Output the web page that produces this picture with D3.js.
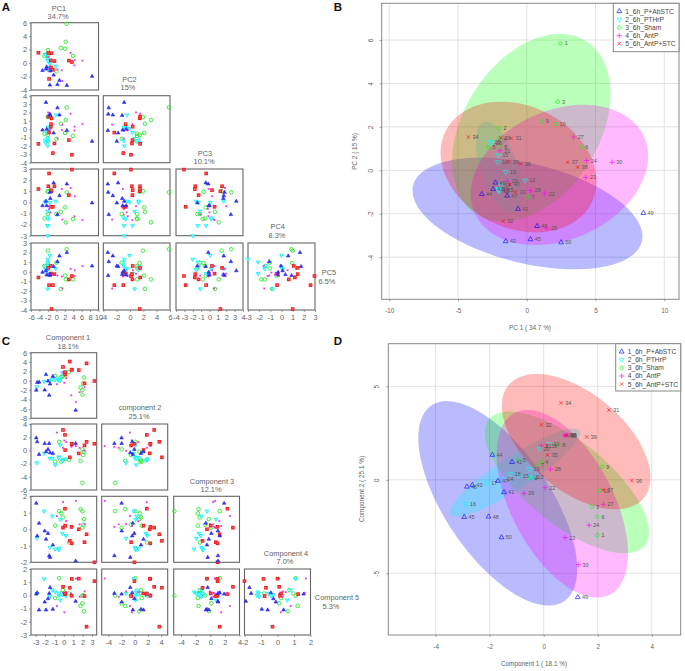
<!DOCTYPE html>
<html><head><meta charset="utf-8">
<style>html,body{margin:0;padding:0;background:#fff}svg{display:block}text{font-family:"Liberation Sans",Arial,sans-serif}</style>
<script src="https://cdn.jsdelivr.net/npm/d3@7"></script></head><body><div id="c"></div>
<script>
// sample order 1..50 : Sham 1-10, PTHrP 11-20, AntP 21-30, AntP+STC 31-40, P+AbSTC 41-50
const groupNames=["1_6h_P+AbSTC","2_6h_PTHrP","3_6h_Sham","4_6h_AntP","5_6h_AntP+STC"];
const sampleGroupOrder=[2,1,3,4,0];
const pc1=[2.45,-1.99,2.25,-2.0,-2.8,3.95,0.03,-1.95,1.07,2.08,-2.05,-.12,-1.53,-1.9,-2.08,-2.1,-2.05,-2.02,-2.65,-2.55,-1.95,1.3,4.3,4.35,-1.7,1.45,3.4,.27,-1.4,6.2,-1.13,-1.72,-.82,-4.25,-1.3,-1.9,2.97,3.7,-.45,-1.25,-.63,-1.53,-2.45,-3.27,.27,-2.28,-1.43,.75,8.48,2.5];
const pc2=[5.84,1.94,3.16,1.45,1.05,1.07,-1.24,1.07,2.25,2.13,-.85,-.46,-.07,-.68,.69,.38,-.9,-.95,1.3,1.27,.9,-1.07,-.33,.45,-.9,-2.67,1.53,-.93,-.5,.37,1.47,-2.35,-1.0,1.53,.4,1.5,.37,.15,.29,-.65,-1.78,-3.27,-.87,-1.1,-3.18,-.57,-1.17,-2.57,-1.97,-3.32];
const pc3=[2.6,1.45,1.1,-.7,-.55,-.8,-1.15,-1.45,.65,-.45,-2.0,1.7,.1,.2,-1.1,-.4,-1.4,.25,-1.3,-1.6,2.0,-.1,-.15,.3,-.2,.55,1.85,-1.1,0,.6,1.3,-.4,-2.85,-1.75,.3,1.5,-1.3,-3.05,-1.7,.6,-.45,1.8,3.2,-.1,2.55,0,1.65,1.7,-1.45,-.15];
const pc4=[.9,1.0,-1.8,.95,-1.45,-1.5,-1.05,-1.05,-.85,-.45,-3,.1,0,-1.5,-.8,-2.1,-2.1,-1.4,0,.1,-.35,1.2,-1.25,.55,-.6,-1.55,1.3,-1.1,-.9,-1.6,1.0,2.6,-.4,1.2,1.1,1.45,.65,2.95,1.45,-.4,1.75,.9,.1,-.3,-1.1,-.3,.35,.6,-.05,1.65];
const pc5=[2.35,2.2,-.8,.9,.6,-.8,.95,.35,-1.8,-.4,1.3,.3,1.7,.3,-1.8,-.2,1.0,.6,.5,.2,-.2,-.5,-.45,.15,-.3,-1.75,.3,-.4,-.1,.6,-3.9,-1.4,-1.4,-.6,.6,.4,-.8,-.45,-.25,-.2,.55,-.4,.1,-.05,1.05,-.35,-.3,1.65,.6,2.0];
const c1=[1.98,-.5,1.78,-.1,-.93,1.98,-.26,.54,2.16,2.06,-.55,-.38,-.53,-1.5,-.93,-2.88,-2.1,-1.23,.21,-.16,-.09,.05,.79,1.68,.85,-.73,2.21,.25,.75,1.28,2.42,-.09,.12,.64,.14,3.26,2.2,.85,1.59,.83,-1.47,-1.17,-2.64,-1.9,-2.94,-2.84,-1.69,-2.04,1.26,-1.56];
const c2=[-2.95,.12,-1.43,.97,1.06,-1.97,.79,1.86,.7,-.58,.15,.13,.58,.03,.22,-1.29,-.15,.31,1.92,1.67,1.83,-.42,-3.09,-2.43,2.4,-.72,-1.31,.56,2.38,-4.54,3.73,2.95,1.83,4.12,1.33,-.04,-.54,2.36,2.29,2.38,-.67,.95,-.28,1.33,-1.99,-.37,-.06,-1.97,-6.28,-3.08];
const c3=[-4.9,1.3,-1.6,-1.45,-1.7,.15,-1.7,-1.4,-.2,-.7,-1,.8,-1.1,-1.2,-2.2,-1.9,-.45,-1.2,-1.3,-1.55,.4,1.5,.55,.4,.65,2.7,-.05,1.25,.8,.65,1.3,3.1,2.35,-1.05,.05,1,.75,1,-.45,1,-.35,-.45,-.6,-.2,1.9,1.3,.15,1.05,1.05,1.05];
const c4=[1.1,1.1,1.22,.72,.22,.1,.97,-.8,.62,.28,-1.25,.6,-1.15,-1.1,-1.2,-.55,1.1,.8,-.38,-.25,1.65,.2,.15,.3,.1,.8,.32,.5,.1,1.72,-.3,.1,1.25,-.7,.22,-2,-.78,-.85,0,.15,-1.7,-.95,.37,-.6,1.58,-.4,-.25,-.1,-1.92,-1.6];
const c5=[-.02,1.3,-.8,.4,-.2,-.6,.15,.15,-1.2,0,0,-.35,.15,-.1,.25,.15,1.25,.4,-.05,.05,.2,-1.28,.15,-.1,1.28,-.8,.3,.25,.1,1.28,-2.37,.65,.1,.58,.15,1.08,-.05,1.25,1.27,-.03,.6,-1.05,-1.1,-1.1,.1,.2,-.25,-.5,-.45,.15];
// confidence ellipses per legend group: centre x, centre y, half-width, half-height, correlation (data units)
const ellipseCx_B=[.05,-2.02,.33,2.38,-.6], ellipseCy_B=[-1.99,.13,1.96,-.215,.15], ellipseA_B=[8.36,1.68,5.76,6.45,5.67], ellipseB_B=[2.57,2.11,4.32,3.23,3.01], ellipseR_B=[-.41,-.54,.36,.27,-.22];
const ellipseCx_D=[-1.7,-1.06,.86,.69,1.2], ellipseCy_D=[-1.26,.39,-.14,-1.28,2.04], ellipseA_D=[2.94,2.41,3.04,2.43,2.75], ellipseB_D=[5.47,2.36,3.79,5.02,3.62], ellipseR_D=[-.64,.9,-.7,-.53,-.53];
const colors=["#0000ff","#00ffff","#00ff00","#ff00ff","#ff0000"];
const textGray="#5f5f5f", boxGray="#666";

const svg=d3.select("#c").append("svg").attr("width",685).attr("height",671);
const groupOf=i=>sampleGroupOrder[Math.floor(i/10)];
const plainInt=d=>String(d);

function txt(x,y,s,size,opt={}){return svg.append("text").attr("x",x).attr("y",y).attr("text-anchor",opt.anchor||"middle")
  .attr("font-size",size).attr("fill",opt.fill||textGray).attr("font-weight",opt.weight||null).attr("transform",opt.rot?`rotate(-90 ${x} ${y})`:null).text(s);}

// ---- markers of the small scatter matrices
function pairMark(g,gi,x,y){
  const t=`translate(${x},${y})`;
  if(gi===0) g.append("path").attr("d",d3.symbol(d3.symbolTriangle,5.5)()).attr("transform",t).attr("fill","#3a3af0").attr("stroke","#2222ee").attr("stroke-width",.6);
  if(gi===1) g.append("path").attr("d",d3.symbol(d3.symbolTriangle,6)()).attr("transform",t+" rotate(180)").attr("fill","#9ff").attr("stroke","#00f0ff").attr("stroke-width",.8);
  if(gi===2) g.append("circle").attr("cx",x).attr("cy",y).attr("r",1.8).attr("fill","none").attr("stroke","#22e622").attr("stroke-width",.85);
  if(gi===3) g.append("rect").attr("x",x-.9).attr("y",y-.9).attr("width",1.8).attr("height",1.8).attr("fill","#f030f0");
  if(gi===4){ g.append("rect").attr("x",x-1.8).attr("y",y-1.8).attr("width",3.6).attr("height",3.6).attr("fill","#f01818");
    g.append("path").attr("d",`M${x-1},${y-1}L${x+1},${y+1}M${x-1},${y+1}L${x+1},${y-1}`).attr("stroke","#ff9a9a").attr("stroke-width",.5);}
}

function pairMatrix(vars,cols,rows){
  rows.forEach((r,ri)=>{
    cols.forEach((c,ci)=>{
      if(ci>ri) return;
      const x=d3.scaleLinear().domain(c.dom).range(c.px), y=d3.scaleLinear().domain(r.dom).range(r.px);
      const g=svg.append("g");
      if(ci===0){
        const a=g.append("g").attr("transform",`translate(${c.px[0]},0)`).call(d3.axisLeft(y).tickValues(r.ticks).tickSize(2).tickPadding(2).tickFormat(plainInt));
        styleAxis(a);
      }
      if(ri===rows.length-1){
        const a=g.append("g").attr("transform",`translate(0,${r.px[0]})`).call(d3.axisBottom(x).tickValues(c.ticks).tickSize(2).tickPadding(3).tickFormat(plainInt));
        styleAxis(a);
      }
      g.append("rect").attr("x",c.px[0]).attr("y",r.px[1]).attr("width",c.px[1]-c.px[0]).attr("height",r.px[0]-r.px[1]).attr("fill","none").attr("stroke",boxGray).attr("stroke-width",1.1);
      vars[0].forEach((_,i)=>{
        const a=vars[ci][i], b=vars[ri+1][i];
        if(a<c.dom[0]||a>c.dom[1]||b<r.dom[0]||b>r.dom[1]) return;
        pairMark(g,groupOf(i),x(a),y(b));
      });
    });
  });
}
function styleAxis(a){a.select(".domain").remove();a.selectAll("line").attr("stroke","#777").attr("stroke-width",.7);
  a.selectAll("text").attr("font-size",7.4).attr("fill",textGray).attr("font-family",'"Liberation Sans",Arial,sans-serif');}

// ---- big score plots
function bigMark(g,gi,x,y,lw){
  const t=`translate(${x},${y})`;
  if(gi===2){ g.append("circle").attr("cx",x).attr("cy",y).attr("r",1.8).attr("fill","none").attr("stroke",colors[gi]).attr("stroke-width",lw||.75).attr("opacity",.8); return; }
  const p=g.append("path").attr("fill","none").attr("stroke",colors[gi]).attr("stroke-width",lw||.75).attr("opacity",.8);
  if(gi===0) p.attr("d",d3.symbol(d3.symbolTriangle,10)()).attr("transform",t);
  if(gi===1) p.attr("d",d3.symbol(d3.symbolTriangle,10)()).attr("transform",t+" rotate(180)");
  if(gi===3) p.attr("d","M-2.7,0H2.7M0,-2.7V2.7").attr("transform",t);
  if(gi===4) p.attr("d","M-1.7,-1.7L1.7,1.7M-1.7,1.7L1.7,-1.7").attr("transform",t);
}
function scorePlot(o){
  const x=d3.scaleLinear().domain(o.xDom).range([o.box[0],o.box[1]]), y=d3.scaleLinear().domain(o.yDom).range([o.box[3],o.box[2]]);
  const g=svg.append("g");
  const grid=g.append("g").attr("stroke","#e2e2e2").attr("stroke-width",1);
  o.xTicks.forEach(t=>grid.append("line").attr("x1",x(t)).attr("x2",x(t)).attr("y1",o.box[2]).attr("y2",o.box[3]));
  o.yTicks.forEach(t=>grid.append("line").attr("x1",o.box[0]).attr("x2",o.box[1]).attr("y1",y(t)).attr("y2",y(t)));
  const line=d3.line().x(d=>d[0]).y(d=>d[1]);
  groupNames.forEach((n,i)=>{
    const pts=d3.range(0,2*Math.PI+.01,.05).map(a=>[x(o.ell.cx[i]+o.ell.a[i]*Math.cos(a)),y(o.ell.cy[i]+o.ell.b[i]*Math.cos(a+Math.acos(o.ell.r[i])))]);
    g.append("path").attr("d",line(pts)+"Z").attr("fill",colors[i]).attr("fill-opacity",.27);
  });
  o.xs.forEach((v,i)=>{
    bigMark(g,groupOf(i),x(v),y(o.ys[i]));
    g.append("text").attr("x",x(v)+4.2).attr("y",y(o.ys[i])+2).attr("font-size",5.4).attr("fill","#555").text(i+1);
  });
  g.append("rect").attr("x",o.box[0]).attr("y",o.box[2]).attr("width",o.box[1]-o.box[0]).attr("height",o.box[3]-o.box[2]).attr("fill","none").attr("stroke","#888").attr("stroke-width",1);
  const ax=g.append("g").attr("transform",`translate(0,${o.box[3]})`).call(d3.axisBottom(x).tickValues(o.xTicks).tickSize(2).tickPadding(7).tickFormat(plainInt));
  styleAxis(ax); ax.selectAll("text").attr("font-size",6.4);
  const ay=g.append("g").attr("transform",`translate(${o.box[0]},0)`).call(d3.axisLeft(y).tickValues(o.yTicks).tickSize(2).tickPadding(0).tickFormat(plainInt));
  styleAxis(ay);
  ay.selectAll("text").attr("font-size",6.4).attr("text-anchor","middle").attr("x",0).attr("y",0).attr("dy",null).attr("transform",`translate(${o.yTickX-o.box[0]},0) rotate(-90)`);
  txt(o.xTitle[0],o.xTitle[1],o.xLabel,6.4);
  txt(o.yTitle[0],o.yTitle[1],o.yLabel,6.4,{rot:true});
  // legend
  const lw=o.box[1]-o.legendX, lh=o.legendB-o.box[2];
  g.append("rect").attr("x",o.legendX).attr("y",o.box[2]).attr("width",lw).attr("height",lh).attr("fill","#fff").attr("stroke","#888");
  groupNames.forEach((n,i)=>{
    const yy=o.box[2]+8+i*8.1;
    bigMark(g,i,o.legendX+6,yy,.8);
    g.append("text").attr("x",o.legendX+12).attr("y",yy+2.4).attr("font-size",6.7).attr("fill","#444").text(n);
  });
}

// ---- Panel A
const A_cols=[{dom:[-6,10],px:[31,98.5],ticks:d3.range(-6,11,2)},{dom:[-4,6],px:[103.3,170],ticks:d3.range(-4,7,2)},{dom:[-4,4],px:[176,243],ticks:d3.range(-4,5)},{dom:[-3,3],px:[248,315],ticks:d3.range(-3,4)}];
const A_rows=[{dom:[-4,6],px:[90,22.7],ticks:d3.range(-4,7,2)},{dom:[-4,4],px:[162.7,95.7],ticks:d3.range(-4,5)},{dom:[-3,3],px:[235.7,169],ticks:d3.range(-3,4)},{dom:[-4,3],px:[310,243],ticks:d3.range(-4,4)}];
pairMatrix([pc1,pc2,pc3,pc4,pc5],A_cols,A_rows);
[["PC1",59,11],["34.7%",58,19],["PC2",129.5,82],["15%",128,90],["PC3",205,156],["10.1%",204,164],["PC4",277.7,229],["8.3%",277,238],["PC5",329,275],["6.5%",327,284]].forEach(d=>txt(d[1],d[2],d[0],7.4));

// ---- Panel C
const C_cols=[{dom:[-3.5,3.5],px:[31,96.7],ticks:d3.range(-3,4)},{dom:[-5,5],px:[101.7,167.7],ticks:d3.range(-4,5,2)},{dom:[-5,4],px:[173.7,239.5],ticks:d3.range(-4,5,2)},{dom:[-2,2],px:[244.5,310.5],ticks:d3.range(-2,3)}];
const C_rows=[{dom:[-8,6],px:[418.3,352.7],ticks:d3.range(-8,7,2)},{dom:[-6,4],px:[490,424],ticks:d3.range(-6,5,2)},{dom:[-2,2],px:[562.3,496.3],ticks:d3.range(-2,3)},{dom:[-3,2],px:[635,569],ticks:d3.range(-3,3)}];
pairMatrix([c1,c2,c3,c4,c5],C_cols,C_rows);
[["Component 1",68,340],["18.1%",68,349],["component 2",140,410],["25.1%",139,419],["Component 3",212,484],["12.1%",211,492],["Component 4",286,556],["7.0%",285,564],["Component 5",337,600],["5.3%",331,609]].forEach(d=>txt(d[1],d[2],d[0],7.4));

// ---- Panels B, D
scorePlot({xs:pc1,ys:pc2,box:[381.7,679,3.3,299.3],xDom:[-10.55,11.07],yDom:[-5.94,7.69],xTicks:[-10,-5,0,5,10],yTicks:[-4,-2,0,2,4,6],
  ell:{cx:ellipseCx_B,cy:ellipseCy_B,a:ellipseA_B,b:ellipseB_B,r:ellipseR_B},xLabel:"PC 1 ( 34.7 %)",yLabel:"PC 2 ( 15 %)",xTitle:[530,330],yTitle:[357,151.5],yTickX:373,legendX:613.3,legendB:51.7});
scorePlot({xs:c1,ys:c2,box:[388.3,680.7,343.7,635],xDom:[-5.75,5.07],yDom:[-8.3,7.28],xTicks:[-4,-2,0,2,4],yTicks:[-5,0,5],
  ell:{cx:ellipseCx_D,cy:ellipseCy_D,a:ellipseA_D,b:ellipseB_D,r:ellipseR_D},xLabel:"Component 1 ( 18.1 %)",yLabel:"Component 2 ( 25.1 %)",xTitle:[534,666],yTitle:[364,489],yTickX:379,legendX:615.7,legendB:391});

// ---- panel letters
[["A",6,11],["B",338,11],["C",6,345],["D",338,345]].forEach(d=>txt(d[1],d[2],d[0],11.5,{weight:"bold",fill:"#111"}));
</script></body></html>
